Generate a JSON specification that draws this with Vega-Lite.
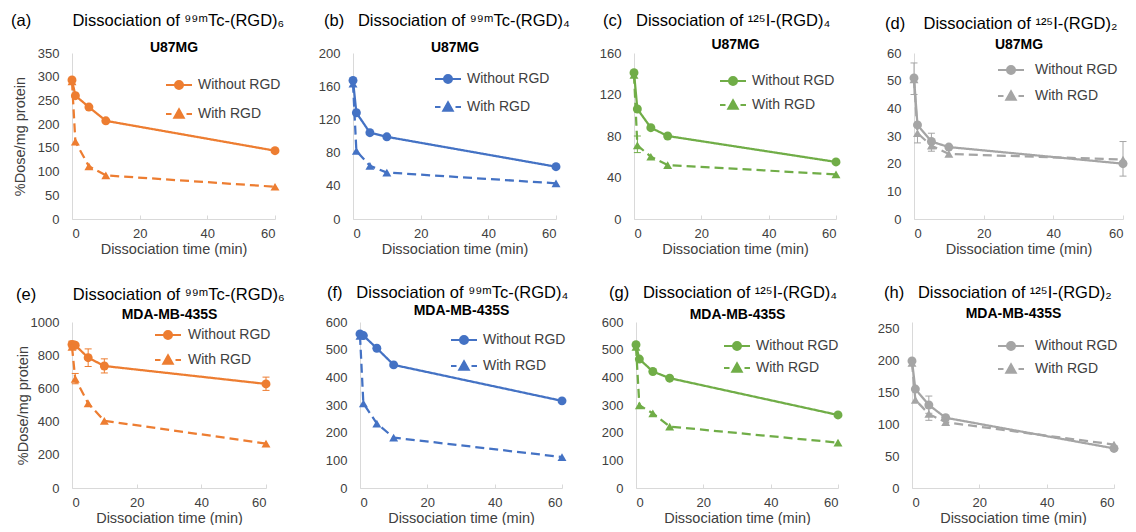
{
"$schema": "https://vega.github.io/schema/vega-lite/v6.json",
"padding": {"left": 11, "top": 12, "right": 0, "bottom": 0},
"config": {
  "font": "Liberation Sans",
  "view": {"stroke": null},
  "title": {"fontSize": 16.5, "fontWeight": "normal", "color": "#000000", "font": "Liberation Sans", "baseline": "alphabetic", "frame": "group", "anchor": "start"},
  "axis": {"labelFontSize": 13, "labelColor": "#404040", "titleFontSize": 14.5, "titleColor": "#404040", "titleFontWeight": "normal", "domainColor": "#D9D9D9", "tickColor": "#D9D9D9", "grid": false, "labelFont": "Liberation Sans", "titleFont": "Liberation Sans", "labelOverlap": false},
  "axisX": {"tickSize": -4, "labelPadding": 12, "titlePadding": 2},
  "axisY": {"ticks": false, "labelPadding": 13, "tickCount": 12},
  "legend": {"labelFontSize": 14, "labelColor": "#404040", "labelFont": "Liberation Sans", "padding": 0, "symbolSize": 100, "symbolOpacity": 1, "symbolStrokeWidth": 2, "direction": "vertical", "orient": "none"}
},
"datasets": {"d": [
{"p":"a","s":"Without RGD","t":0,"v":293},{"p":"a","s":"Without RGD","t":1,"v":260},{"p":"a","s":"Without RGD","t":5,"v":236},{"p":"a","s":"Without RGD","t":10,"v":207},{"p":"a","s":"Without RGD","t":60,"v":144},
{"p":"a","s":"With RGD","t":0,"v":290},{"p":"a","s":"With RGD","t":1,"v":163},{"p":"a","s":"With RGD","t":5,"v":111},{"p":"a","s":"With RGD","t":10,"v":92},{"p":"a","s":"With RGD","t":60,"v":68},
{"p":"b","s":"Without RGD","t":0,"v":167},{"p":"b","s":"Without RGD","t":1,"v":128},{"p":"b","s":"Without RGD","t":5,"v":104},{"p":"b","s":"Without RGD","t":10,"v":99},{"p":"b","s":"Without RGD","t":60,"v":63},
{"p":"b","s":"With RGD","t":0,"v":163},{"p":"b","s":"With RGD","t":1,"v":82},{"p":"b","s":"With RGD","t":5,"v":64},{"p":"b","s":"With RGD","t":10,"v":56},{"p":"b","s":"With RGD","t":60,"v":43},
{"p":"c","s":"Without RGD","t":0,"v":141},{"p":"c","s":"Without RGD","t":1,"v":106},{"p":"c","s":"Without RGD","t":5,"v":88},{"p":"c","s":"Without RGD","t":10,"v":80},{"p":"c","s":"Without RGD","t":60,"v":55},
{"p":"c","s":"With RGD","t":0,"v":139},{"p":"c","s":"With RGD","t":1,"v":71,"lo":64,"hi":80},{"p":"c","s":"With RGD","t":5,"v":60},{"p":"c","s":"With RGD","t":10,"v":52},{"p":"c","s":"With RGD","t":60,"v":43},
{"p":"d","s":"Without RGD","t":0,"v":51,"lo":45,"hi":56.4},{"p":"d","s":"Without RGD","t":1,"v":34},{"p":"d","s":"Without RGD","t":5,"v":28,"lo":24.5,"hi":31},{"p":"d","s":"Without RGD","t":10,"v":26},{"p":"d","s":"Without RGD","t":60,"v":20},
{"p":"d","s":"With RGD","t":0,"v":50.5},{"p":"d","s":"With RGD","t":1,"v":31,"lo":27.5,"hi":34},{"p":"d","s":"With RGD","t":5,"v":26.5},{"p":"d","s":"With RGD","t":10,"v":23.5},{"p":"d","s":"With RGD","t":60,"v":21.5,"lo":15.5,"hi":28},
{"p":"e","s":"Without RGD","t":0,"v":865,"lo":845,"hi":885},{"p":"e","s":"Without RGD","t":1,"v":860},{"p":"e","s":"Without RGD","t":5,"v":785,"lo":732,"hi":838},{"p":"e","s":"Without RGD","t":10,"v":735,"lo":693,"hi":778},{"p":"e","s":"Without RGD","t":60,"v":627,"lo":588,"hi":668},
{"p":"e","s":"With RGD","t":0,"v":850},{"p":"e","s":"With RGD","t":1,"v":658,"lo":628,"hi":690},{"p":"e","s":"With RGD","t":5,"v":510},{"p":"e","s":"With RGD","t":10,"v":405},{"p":"e","s":"With RGD","t":60,"v":268},
{"p":"f","s":"Without RGD","t":0,"v":557},{"p":"f","s":"Without RGD","t":1,"v":551},{"p":"f","s":"Without RGD","t":5,"v":505},{"p":"f","s":"Without RGD","t":10,"v":445},{"p":"f","s":"Without RGD","t":60,"v":315},
{"p":"f","s":"With RGD","t":0,"v":550},{"p":"f","s":"With RGD","t":1,"v":306},{"p":"f","s":"With RGD","t":5,"v":233},{"p":"f","s":"With RGD","t":10,"v":182},{"p":"f","s":"With RGD","t":60,"v":112},
{"p":"g","s":"Without RGD","t":0,"v":518},{"p":"g","s":"Without RGD","t":1,"v":466},{"p":"g","s":"Without RGD","t":5,"v":421},{"p":"g","s":"Without RGD","t":10,"v":397},{"p":"g","s":"Without RGD","t":60,"v":264},
{"p":"g","s":"With RGD","t":0,"v":510},{"p":"g","s":"With RGD","t":1,"v":299},{"p":"g","s":"With RGD","t":5,"v":270},{"p":"g","s":"With RGD","t":10,"v":222},{"p":"g","s":"With RGD","t":60,"v":164},
{"p":"h","s":"Without RGD","t":0,"v":199},{"p":"h","s":"Without RGD","t":1,"v":155},{"p":"h","s":"Without RGD","t":5,"v":130,"lo":117,"hi":144},{"p":"h","s":"Without RGD","t":10,"v":110},{"p":"h","s":"Without RGD","t":60,"v":62},
{"p":"h","s":"With RGD","t":0,"v":196},{"p":"h","s":"With RGD","t":1,"v":138},{"p":"h","s":"With RGD","t":5,"v":116,"lo":106,"hi":126},{"p":"h","s":"With RGD","t":10,"v":103},{"p":"h","s":"With RGD","t":60,"v":68}
]},
"data": {"name": "d"},
"spacing": 28,
"vconcat": [
{"hconcat": [
{"width": 203, "height": 166,
 "title": {"text": "(a)\u00a0\u00a0\u00a0\u00a0\u00a0\u00a0\u00a0\u00a0\u00a0Dissociation of \u2079\u2079\u1d50Tc-(RGD)\u2086", "dx": -61, "offset": 11},
 "transform": [{"filter": "datum.p === 'a'"}],
 "layer": [
  {"mark": {"type": "line", "color": "#ED7D31", "strokeWidth": 2.25},
   "encoding": {
    "x": {"field": "t", "type": "quantitative", "scale": {"domain": [0, 60]}, "axis": {"values": [0, 20, 40, 60], "title": "Dissociation time (min)"}},
    "y": {"field": "v", "type": "quantitative", "scale": {"domain": [0, 350]}, "axis": {"values": [0, 50, 100, 150, 200, 250, 300, 350], "tickCount": 12, "title": "%Dose/mg protein", "titlePadding": 10}},
    "strokeDash": {"field": "s", "type": "nominal", "scale": {"domain": ["Without RGD", "With RGD"], "range": [[1, 0], [9, 5]]}, "legend": null}
   }},
  {"mark": {"type": "point", "filled": true, "size": 80, "color": "#ED7D31", "opacity": 1},
   "encoding": {
    "x": {"field": "t", "type": "quantitative", "axis": {"orient": "top", "title": "U87MG", "titleFontWeight": "bold", "titleFontSize": 14, "titleColor": "#000000", "titleBaseline": "alphabetic", "labels": false, "ticks": false, "domain": false, "titlePadding": 2, "minExtent": 0, "maxExtent": 0}},
    "y": {"field": "v", "type": "quantitative", "axis": {"title": "%Dose/mg protein"}},
    "shape": {"field": "s", "type": "nominal", "scale": {"domain": ["Without RGD", "With RGD"], "range": ["circle", "triangle-up"]}, "legend": null}
   }},
  {"mark": {"type": "point", "filled": true, "color": "#ED7D31", "stroke": "#ED7D31", "opacity": 0},
   "encoding": {
    "x": {"field": "t", "type": "quantitative", "axis": null},
    "y": {"field": "v", "type": "quantitative", "axis": {"title": "%Dose/mg protein"}},
    "shape": {"field": "s", "type": "nominal", "scale": {"domain": ["Without RGD", "With RGD"], "range": ["M-2.6,0H2.6M0.8,0A0.8,0.8,0,1,1,-0.8,0A0.8,0.8,0,1,1,0.8,0Z", "M-2.6,0H-1.5M1.5,0H2.6M0,-0.95L0.95,0.75L-0.95,0.75Z"]},
     "legend": {"legendX": 100, "legendY": 25, "title": null, "labelOffset": 12, "rowPadding": 12, "symbolOpacity": 1, "symbolStrokeWidth": 2}}
   }}
 ],
 "resolve": {"axis": {"x": "independent"}, "scale": {"shape": "independent"}}
},
{"width": 203, "height": 166,
 "title": {"text": "(b)\u00a0\u00a0\u00a0Dissociation of \u2079\u2079\u1d50Tc-(RGD)\u2084", "dx": -29, "offset": 11},
 "transform": [{"filter": "datum.p === 'b'"}],
 "layer": [
  {"mark": {"type": "line", "color": "#4472C4", "strokeWidth": 2.25},
   "encoding": {
    "x": {"field": "t", "type": "quantitative", "scale": {"domain": [0, 60]}, "axis": {"values": [0, 20, 40, 60], "title": "Dissociation time (min)"}},
    "y": {"field": "v", "type": "quantitative", "scale": {"domain": [0, 200]}, "axis": {"values": [0, 40, 80, 120, 160, 200], "tickCount": 12, "title": null}},
    "strokeDash": {"field": "s", "type": "nominal", "scale": {"domain": ["Without RGD", "With RGD"], "range": [[1, 0], [9, 5]]}, "legend": null}
   }},
  {"mark": {"type": "point", "filled": true, "size": 80, "color": "#4472C4", "opacity": 1},
   "encoding": {
    "x": {"field": "t", "type": "quantitative", "axis": {"orient": "top", "title": "U87MG", "titleFontWeight": "bold", "titleFontSize": 14, "titleColor": "#000000", "titleBaseline": "alphabetic", "labels": false, "ticks": false, "domain": false, "titlePadding": 2, "minExtent": 0, "maxExtent": 0}},
    "y": {"field": "v", "type": "quantitative", "axis": {"title": null}},
    "shape": {"field": "s", "type": "nominal", "scale": {"domain": ["Without RGD", "With RGD"], "range": ["circle", "triangle-up"]}, "legend": null}
   }},
  {"mark": {"type": "point", "filled": true, "color": "#4472C4", "stroke": "#4472C4", "opacity": 0},
   "encoding": {
    "x": {"field": "t", "type": "quantitative", "axis": null},
    "y": {"field": "v", "type": "quantitative", "axis": {"title": null}},
    "shape": {"field": "s", "type": "nominal", "scale": {"domain": ["Without RGD", "With RGD"], "range": ["M-2.6,0H2.6M0.8,0A0.8,0.8,0,1,1,-0.8,0A0.8,0.8,0,1,1,0.8,0Z", "M-2.6,0H-1.5M1.5,0H2.6M0,-0.95L0.95,0.75L-0.95,0.75Z"]},
     "legend": {"legendX": 88, "legendY": 19, "title": null, "labelOffset": 12, "rowPadding": 11, "symbolOpacity": 1, "symbolStrokeWidth": 2}}
   }}
 ],
 "resolve": {"axis": {"x": "independent"}, "scale": {"shape": "independent"}}
},
{"width": 202, "height": 166,
 "title": {"text": "(c)\u00a0\u00a0\u00a0Dissociation of \u00b9\u00b2\u2075I-(RGD)\u2084", "dx": -31, "offset": 8},
 "transform": [{"filter": "datum.p === 'c'"}],
 "layer": [
  {"mark": {"type": "line", "color": "#70AD47", "strokeWidth": 2.25},
   "encoding": {
    "x": {"field": "t", "type": "quantitative", "scale": {"domain": [0, 60]}, "axis": {"values": [0, 20, 40, 60], "title": "Dissociation time (min)"}},
    "y": {"field": "v", "type": "quantitative", "scale": {"domain": [0, 160]}, "axis": {"values": [0, 40, 80, 120, 160], "tickCount": 12, "title": null}},
    "strokeDash": {"field": "s", "type": "nominal", "scale": {"domain": ["Without RGD", "With RGD"], "range": [[1, 0], [9, 5]]}, "legend": null}
   }},
  {"transform": [{"filter": "isValid(datum.lo)"}], "mark": {"type": "rule", "color": "#70AD47", "strokeWidth": 1},
   "encoding": {"x": {"field": "t", "type": "quantitative", "axis": null}, "y": {"field": "lo", "type": "quantitative", "axis": {"title": null}}, "y2": {"field": "hi"}}},
  {"transform": [{"filter": "isValid(datum.lo)"}], "mark": {"type": "point", "shape": "stroke", "size": 49, "strokeWidth": 1, "color": "#70AD47", "opacity": 1},
   "encoding": {"x": {"field": "t", "type": "quantitative", "axis": null}, "y": {"field": "lo", "type": "quantitative", "axis": {"title": null}}}},
  {"transform": [{"filter": "isValid(datum.lo)"}], "mark": {"type": "point", "shape": "stroke", "size": 49, "strokeWidth": 1, "color": "#70AD47", "opacity": 1},
   "encoding": {"x": {"field": "t", "type": "quantitative", "axis": null}, "y": {"field": "hi", "type": "quantitative", "axis": {"title": null}}}},
  {"mark": {"type": "point", "filled": true, "size": 80, "color": "#70AD47", "opacity": 1},
   "encoding": {
    "x": {"field": "t", "type": "quantitative", "axis": {"orient": "top", "title": "U87MG", "titleFontWeight": "bold", "titleFontSize": 14, "titleColor": "#000000", "titleBaseline": "alphabetic", "labels": false, "ticks": false, "domain": false, "titlePadding": 5, "minExtent": 0, "maxExtent": 0}},
    "y": {"field": "v", "type": "quantitative", "axis": {"title": null}},
    "shape": {"field": "s", "type": "nominal", "scale": {"domain": ["Without RGD", "With RGD"], "range": ["circle", "triangle-up"]}, "legend": null}
   }},
  {"mark": {"type": "point", "filled": true, "color": "#70AD47", "stroke": "#70AD47", "opacity": 0},
   "encoding": {
    "x": {"field": "t", "type": "quantitative", "axis": null},
    "y": {"field": "v", "type": "quantitative", "axis": {"title": null}},
    "shape": {"field": "s", "type": "nominal", "scale": {"domain": ["Without RGD", "With RGD"], "range": ["M-2.6,0H2.6M0.8,0A0.8,0.8,0,1,1,-0.8,0A0.8,0.8,0,1,1,0.8,0Z", "M-2.6,0H-1.5M1.5,0H2.6M0,-0.95L0.95,0.75L-0.95,0.75Z"]},
     "legend": {"legendX": 92, "legendY": 21, "title": null, "labelOffset": 12, "rowPadding": 7, "symbolOpacity": 1, "symbolStrokeWidth": 2}}
   }}
 ],
 "resolve": {"axis": {"x": "independent"}, "scale": {"shape": "independent"}}
},
{"width": 209, "height": 166,
 "title": {"text": "(d)\u00a0\u00a0\u00a0\u00a0Dissociation of \u00b9\u00b2\u2075I-(RGD)\u2082", "dx": -29, "offset": 5},
 "transform": [{"filter": "datum.p === 'd'"}],
 "layer": [
  {"mark": {"type": "line", "color": "#A5A5A5", "strokeWidth": 2.25},
   "encoding": {
    "x": {"field": "t", "type": "quantitative", "scale": {"domain": [0, 60]}, "axis": {"values": [0, 20, 40, 60], "title": "Dissociation time (min)"}},
    "y": {"field": "v", "type": "quantitative", "scale": {"domain": [0, 60]}, "axis": {"values": [0, 10, 20, 30, 40, 50, 60], "tickCount": 12, "title": null}},
    "strokeDash": {"field": "s", "type": "nominal", "scale": {"domain": ["Without RGD", "With RGD"], "range": [[1, 0], [9, 5]]}, "legend": null}
   }},
  {"transform": [{"filter": "isValid(datum.lo)"}], "mark": {"type": "rule", "color": "#A5A5A5", "strokeWidth": 1},
   "encoding": {"x": {"field": "t", "type": "quantitative", "axis": null}, "y": {"field": "lo", "type": "quantitative", "axis": {"title": null}}, "y2": {"field": "hi"}}},
  {"transform": [{"filter": "isValid(datum.lo)"}], "mark": {"type": "point", "shape": "stroke", "size": 49, "strokeWidth": 1, "color": "#A5A5A5", "opacity": 1},
   "encoding": {"x": {"field": "t", "type": "quantitative", "axis": null}, "y": {"field": "lo", "type": "quantitative", "axis": {"title": null}}}},
  {"transform": [{"filter": "isValid(datum.lo)"}], "mark": {"type": "point", "shape": "stroke", "size": 49, "strokeWidth": 1, "color": "#A5A5A5", "opacity": 1},
   "encoding": {"x": {"field": "t", "type": "quantitative", "axis": null}, "y": {"field": "hi", "type": "quantitative", "axis": {"title": null}}}},
  {"mark": {"type": "point", "filled": true, "size": 80, "color": "#A5A5A5", "opacity": 1},
   "encoding": {
    "x": {"field": "t", "type": "quantitative", "axis": {"orient": "top", "title": "U87MG", "titleFontWeight": "bold", "titleFontSize": 14, "titleColor": "#000000", "titleBaseline": "alphabetic", "labels": false, "ticks": false, "domain": false, "titlePadding": 5, "minExtent": 0, "maxExtent": 0}},
    "y": {"field": "v", "type": "quantitative", "axis": {"title": null}},
    "shape": {"field": "s", "type": "nominal", "scale": {"domain": ["Without RGD", "With RGD"], "range": ["circle", "triangle-up"]}, "legend": null}
   }},
  {"mark": {"type": "point", "filled": true, "color": "#A5A5A5", "stroke": "#A5A5A5", "opacity": 0},
   "encoding": {
    "x": {"field": "t", "type": "quantitative", "axis": null},
    "y": {"field": "v", "type": "quantitative", "axis": {"title": null}},
    "shape": {"field": "s", "type": "nominal", "scale": {"domain": ["Without RGD", "With RGD"], "range": ["M-2.6,0H2.6M0.8,0A0.8,0.8,0,1,1,-0.8,0A0.8,0.8,0,1,1,0.8,0Z", "M-2.6,0H-1.5M1.5,0H2.6M0,-0.95L0.95,0.75L-0.95,0.75Z"]},
     "legend": {"legendX": 90, "legendY": 10, "title": null, "labelOffset": 17, "rowPadding": 9, "symbolOpacity": 1, "symbolStrokeWidth": 2}}
   }}
 ],
 "resolve": {"axis": {"x": "independent"}, "scale": {"shape": "independent"}}
}
], "spacing": 78, "bounds": "flush"},
{"hconcat": [
{"width": 194, "height": 166,
 "title": {"text": "(e)\u00a0\u00a0\u00a0\u00a0\u00a0\u00a0\u00a0\u00a0Dissociation of \u2079\u2079\u1d50Tc-(RGD)\u2086", "dx": -56, "offset": 4},
 "transform": [{"filter": "datum.p === 'e'"}],
 "layer": [
  {"mark": {"type": "line", "color": "#ED7D31", "strokeWidth": 2.25},
   "encoding": {
    "x": {"field": "t", "type": "quantitative", "scale": {"domain": [0, 60]}, "axis": {"values": [0, 20, 40, 60], "title": "Dissociation time (min)"}},
    "y": {"field": "v", "type": "quantitative", "scale": {"domain": [0, 1000]}, "axis": {"values": [0, 200, 400, 600, 800, 1000], "format": "d", "tickCount": 12, "title": "%Dose/mg protein", "titlePadding": 0}},
    "strokeDash": {"field": "s", "type": "nominal", "scale": {"domain": ["Without RGD", "With RGD"], "range": [[1, 0], [9, 5]]}, "legend": null}
   }},
  {"transform": [{"filter": "isValid(datum.lo)"}], "mark": {"type": "rule", "color": "#ED7D31", "strokeWidth": 1},
   "encoding": {"x": {"field": "t", "type": "quantitative", "axis": null}, "y": {"field": "lo", "type": "quantitative", "axis": {"title": "%Dose/mg protein"}}, "y2": {"field": "hi"}}},
  {"transform": [{"filter": "isValid(datum.lo)"}], "mark": {"type": "point", "shape": "stroke", "size": 49, "strokeWidth": 1, "color": "#ED7D31", "opacity": 1},
   "encoding": {"x": {"field": "t", "type": "quantitative", "axis": null}, "y": {"field": "lo", "type": "quantitative", "axis": {"title": "%Dose/mg protein"}}}},
  {"transform": [{"filter": "isValid(datum.lo)"}], "mark": {"type": "point", "shape": "stroke", "size": 49, "strokeWidth": 1, "color": "#ED7D31", "opacity": 1},
   "encoding": {"x": {"field": "t", "type": "quantitative", "axis": null}, "y": {"field": "hi", "type": "quantitative", "axis": {"title": "%Dose/mg protein"}}}},
  {"mark": {"type": "point", "filled": true, "size": 80, "color": "#ED7D31", "opacity": 1},
   "encoding": {
    "x": {"field": "t", "type": "quantitative", "axis": {"orient": "top", "title": "MDA-MB-435S", "titleFontWeight": "bold", "titleFontSize": 14, "titleColor": "#000000", "titleBaseline": "alphabetic", "labels": false, "ticks": false, "domain": false, "titlePadding": 4, "minExtent": 0, "maxExtent": 0}},
    "y": {"field": "v", "type": "quantitative", "axis": {"title": "%Dose/mg protein"}},
    "shape": {"field": "s", "type": "nominal", "scale": {"domain": ["Without RGD", "With RGD"], "range": ["circle", "triangle-up"]}, "legend": null}
   }},
  {"mark": {"type": "point", "filled": true, "color": "#ED7D31", "stroke": "#ED7D31", "opacity": 0},
   "encoding": {
    "x": {"field": "t", "type": "quantitative", "axis": null},
    "y": {"field": "v", "type": "quantitative", "axis": {"title": "%Dose/mg protein"}},
    "shape": {"field": "s", "type": "nominal", "scale": {"domain": ["Without RGD", "With RGD"], "range": ["M-2.6,0H2.6M0.8,0A0.8,0.8,0,1,1,-0.8,0A0.8,0.8,0,1,1,0.8,0Z", "M-2.6,0H-1.5M1.5,0H2.6M0,-0.95L0.95,0.75L-0.95,0.75Z"]},
     "legend": {"legendX": 89, "legendY": 6, "title": null, "labelOffset": 13, "rowPadding": 8, "symbolOpacity": 1, "symbolStrokeWidth": 2}}
   }}
 ],
 "resolve": {"axis": {"x": "independent"}, "scale": {"shape": "independent"}}
},
{"hconcat": [
{"width": 202, "height": 166,
 "title": {"text": "(f)\u00a0\u00a0\u00a0Dissociation of \u2079\u2079\u1d50Tc-(RGD)\u2084", "dx": -33, "offset": 2},
 "transform": [{"filter": "datum.p === 'f'"}],
 "layer": [
  {"mark": {"type": "line", "color": "#4472C4", "strokeWidth": 2.25},
   "encoding": {
    "x": {"field": "t", "type": "quantitative", "scale": {"domain": [0, 60]}, "axis": {"values": [0, 20, 40, 60], "title": "Dissociation time (min)"}},
    "y": {"field": "v", "type": "quantitative", "scale": {"domain": [0, 600]}, "axis": {"values": [0, 100, 200, 300, 400, 500, 600], "tickCount": 12, "title": null}},
    "strokeDash": {"field": "s", "type": "nominal", "scale": {"domain": ["Without RGD", "With RGD"], "range": [[1, 0], [9, 5]]}, "legend": null}
   }},
  {"mark": {"type": "point", "filled": true, "size": 80, "color": "#4472C4", "opacity": 1},
   "encoding": {
    "x": {"field": "t", "type": "quantitative", "axis": {"orient": "top", "title": "MDA-MB-435S", "titleFontWeight": "bold", "titleFontSize": 14, "titleColor": "#000000", "titleBaseline": "alphabetic", "labels": false, "ticks": false, "domain": false, "titlePadding": 8, "minExtent": 0, "maxExtent": 0}},
    "y": {"field": "v", "type": "quantitative", "axis": {"title": null}},
    "shape": {"field": "s", "type": "nominal", "scale": {"domain": ["Without RGD", "With RGD"], "range": ["circle", "triangle-up"]}, "legend": null}
   }},
  {"mark": {"type": "point", "filled": true, "color": "#4472C4", "stroke": "#4472C4", "opacity": 0},
   "encoding": {
    "x": {"field": "t", "type": "quantitative", "axis": null},
    "y": {"field": "v", "type": "quantitative", "axis": {"title": null}},
    "shape": {"field": "s", "type": "nominal", "scale": {"domain": ["Without RGD", "With RGD"], "range": ["M-2.6,0H2.6M0.8,0A0.8,0.8,0,1,1,-0.8,0A0.8,0.8,0,1,1,0.8,0Z", "M-2.6,0H-1.5M1.5,0H2.6M0,-0.95L0.95,0.75L-0.95,0.75Z"]},
     "legend": {"legendX": 97, "legendY": 11, "title": null, "labelOffset": 12, "rowPadding": 9, "symbolOpacity": 1, "symbolStrokeWidth": 2}}
   }}
 ],
 "resolve": {"axis": {"x": "independent"}, "scale": {"shape": "independent"}}
},
{"width": 202, "height": 166,
 "title": {"text": "(g)\u00a0\u00a0\u00a0Dissociation of \u00b9\u00b2\u2075I-(RGD)\u2084", "dx": -27, "offset": 6},
 "transform": [{"filter": "datum.p === 'g'"}],
 "layer": [
  {"mark": {"type": "line", "color": "#70AD47", "strokeWidth": 2.25},
   "encoding": {
    "x": {"field": "t", "type": "quantitative", "scale": {"domain": [0, 60]}, "axis": {"values": [0, 20, 40, 60], "title": "Dissociation time (min)"}},
    "y": {"field": "v", "type": "quantitative", "scale": {"domain": [0, 600]}, "axis": {"values": [0, 100, 200, 300, 400, 500, 600], "tickCount": 12, "title": null}},
    "strokeDash": {"field": "s", "type": "nominal", "scale": {"domain": ["Without RGD", "With RGD"], "range": [[1, 0], [9, 5]]}, "legend": null}
   }},
  {"mark": {"type": "point", "filled": true, "size": 80, "color": "#70AD47", "opacity": 1},
   "encoding": {
    "x": {"field": "t", "type": "quantitative", "axis": {"orient": "top", "title": "MDA-MB-435S", "titleFontWeight": "bold", "titleFontSize": 14, "titleColor": "#000000", "titleBaseline": "alphabetic", "labels": false, "ticks": false, "domain": false, "titlePadding": 4, "minExtent": 0, "maxExtent": 0}},
    "y": {"field": "v", "type": "quantitative", "axis": {"title": null}},
    "shape": {"field": "s", "type": "nominal", "scale": {"domain": ["Without RGD", "With RGD"], "range": ["circle", "triangle-up"]}, "legend": null}
   }},
  {"mark": {"type": "point", "filled": true, "color": "#70AD47", "stroke": "#70AD47", "opacity": 0},
   "encoding": {
    "x": {"field": "t", "type": "quantitative", "axis": null},
    "y": {"field": "v", "type": "quantitative", "axis": {"title": null}},
    "shape": {"field": "s", "type": "nominal", "scale": {"domain": ["Without RGD", "With RGD"], "range": ["M-2.6,0H2.6M0.8,0A0.8,0.8,0,1,1,-0.8,0A0.8,0.8,0,1,1,0.8,0Z", "M-2.6,0H-1.5M1.5,0H2.6M0,-0.95L0.95,0.75L-0.95,0.75Z"]},
     "legend": {"legendX": 94, "legendY": 17, "title": null, "labelOffset": 12, "rowPadding": 5, "symbolOpacity": 1, "symbolStrokeWidth": 2}}
   }}
 ],
 "resolve": {"axis": {"x": "independent"}, "scale": {"shape": "independent"}}
},
{"width": 202, "height": 166,
 "title": {"text": "(h)\u00a0\u00a0\u00a0Dissociation of \u00b9\u00b2\u2075I-(RGD)\u2082", "dx": -28, "offset": 5},
 "transform": [{"filter": "datum.p === 'h'"}],
 "layer": [
  {"mark": {"type": "line", "color": "#A5A5A5", "strokeWidth": 2.25},
   "encoding": {
    "x": {"field": "t", "type": "quantitative", "scale": {"domain": [0, 60]}, "axis": {"values": [0, 20, 40, 60], "title": "Dissociation time (min)"}},
    "y": {"field": "v", "type": "quantitative", "scale": {"domain": [0, 250]}, "axis": {"values": [0, 50, 100, 150, 200, 250], "tickCount": 12, "title": null}},
    "strokeDash": {"field": "s", "type": "nominal", "scale": {"domain": ["Without RGD", "With RGD"], "range": [[1, 0], [9, 5]]}, "legend": null}
   }},
  {"transform": [{"filter": "isValid(datum.lo)"}], "mark": {"type": "rule", "color": "#A5A5A5", "strokeWidth": 1},
   "encoding": {"x": {"field": "t", "type": "quantitative", "axis": null}, "y": {"field": "lo", "type": "quantitative", "axis": {"title": null}}, "y2": {"field": "hi"}}},
  {"transform": [{"filter": "isValid(datum.lo)"}], "mark": {"type": "point", "shape": "stroke", "size": 49, "strokeWidth": 1, "color": "#A5A5A5", "opacity": 1},
   "encoding": {"x": {"field": "t", "type": "quantitative", "axis": null}, "y": {"field": "lo", "type": "quantitative", "axis": {"title": null}}}},
  {"transform": [{"filter": "isValid(datum.lo)"}], "mark": {"type": "point", "shape": "stroke", "size": 49, "strokeWidth": 1, "color": "#A5A5A5", "opacity": 1},
   "encoding": {"x": {"field": "t", "type": "quantitative", "axis": null}, "y": {"field": "hi", "type": "quantitative", "axis": {"title": null}}}},
  {"mark": {"type": "point", "filled": true, "size": 80, "color": "#A5A5A5", "opacity": 1},
   "encoding": {
    "x": {"field": "t", "type": "quantitative", "axis": {"orient": "top", "title": "MDA-MB-435S", "titleFontWeight": "bold", "titleFontSize": 14, "titleColor": "#000000", "titleBaseline": "alphabetic", "labels": false, "ticks": false, "domain": false, "titlePadding": 5, "minExtent": 0, "maxExtent": 0}},
    "y": {"field": "v", "type": "quantitative", "axis": {"title": null}},
    "shape": {"field": "s", "type": "nominal", "scale": {"domain": ["Without RGD", "With RGD"], "range": ["circle", "triangle-up"]}, "legend": null}
   }},
  {"mark": {"type": "point", "filled": true, "color": "#A5A5A5", "stroke": "#A5A5A5", "opacity": 0},
   "encoding": {
    "x": {"field": "t", "type": "quantitative", "axis": null},
    "y": {"field": "v", "type": "quantitative", "axis": {"title": null}},
    "shape": {"field": "s", "type": "nominal", "scale": {"domain": ["Without RGD", "With RGD"], "range": ["M-2.6,0H2.6M0.8,0A0.8,0.8,0,1,1,-0.8,0A0.8,0.8,0,1,1,0.8,0Z", "M-2.6,0H-1.5M1.5,0H2.6M0,-0.95L0.95,0.75L-0.95,0.75Z"]},
     "legend": {"legendX": 92, "legendY": 17, "title": null, "labelOffset": 17, "rowPadding": 6, "symbolOpacity": 1, "symbolStrokeWidth": 2}}
   }}
 ],
 "resolve": {"axis": {"x": "independent"}, "scale": {"shape": "independent"}}
}
], "spacing": 74, "bounds": "flush"}
], "spacing": 40}
]
}
